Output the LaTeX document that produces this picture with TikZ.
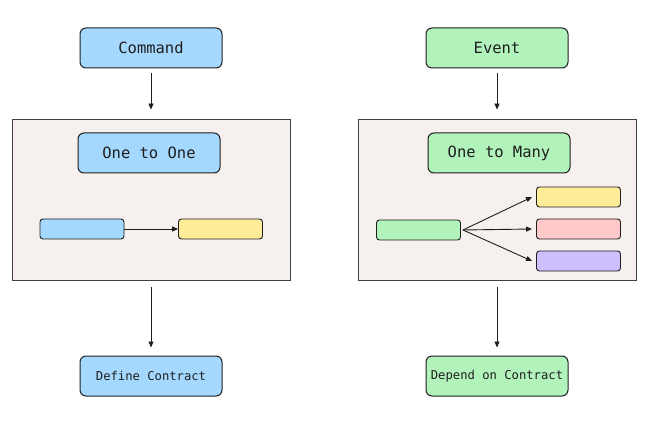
\documentclass[tikz,border=0pt]{standalone}
\usepackage{fontspec}
\setmonofont{DejaVu Sans Mono}
\usetikzlibrary{arrows.meta}
\definecolor{cblue}{HTML}{A5D8FF}
\definecolor{cgreen}{HTML}{B2F2BB}
\definecolor{cyellow}{HTML}{FFEC99}
\definecolor{cpink}{HTML}{FFC9C9}
\definecolor{cpurple}{HTML}{D0BFFF}
\definecolor{cframe}{HTML}{F6F1EE}
\definecolor{cstroke}{HTML}{1E1E1E}
\begin{document}
\begin{tikzpicture}[x=1pt,y=-1pt,
  bigbox/.style={draw=cstroke,line width=1pt,rounded corners=6pt,minimum width=142pt,minimum height=40pt,inner sep=0pt,font=\ttfamily\fontsize{15.5}{18}\selectfont,text=cstroke},
  smallfont/.style={font=\ttfamily\fontsize{12.2}{14}\selectfont},
  bar/.style={draw=cstroke,line width=0.9pt,rounded corners=3pt,minimum width=84pt,minimum height=20pt,inner sep=0pt},
  frame/.style={draw=cstroke!85,line width=0.9pt,fill=cframe,minimum width=278pt,minimum height=161pt,inner sep=0pt},
  arr/.style={draw=cstroke,line width=0.9pt,-{Triangle[length=6pt,width=5pt]}}]
\useasboundingbox (0,0) rectangle (648,422);
\fill[white] (0,0) rectangle (648,422);
% left column
\node[bigbox,fill=cblue] (cmd) at (151,48) {Command};
\node[frame] (lframe) at (151,199.5) {};
\node[bigbox,fill=cblue] (o2o) at (149,153) {One to One};
\node[bar,fill=cblue] (lsrc) at (82,229) {};
\node[bar,fill=cyellow] (ldst) at (220.5,229) {};
\node[bigbox,smallfont,fill=cblue] (def) at (151,376) {Define Contract};
\draw[arr] (cmd.south) ++(0,5) -- ([yshift=9pt]lframe.north);
\draw[arr] (lsrc.east) -- (ldst.west);
\draw[arr] ([yshift=-7pt]lframe.south) -- ([yshift=8pt]def.north);
% right column
\node[bigbox,fill=cgreen] (evt) at (497,48) {Event};
\node[frame] (rframe) at (497,199.5) {};
\node[bigbox,fill=cgreen] (o2m) at (499,153) {One to Many};
\node[bar,fill=cgreen] (rsrc) at (418.5,230) {};
\node[bar,fill=cyellow] (ry) at (578.5,197) {};
\node[bar,fill=cpink] (rp) at (578.5,229) {};
\node[bar,fill=cpurple] (ru) at (578.5,261) {};
\node[bigbox,smallfont,fill=cgreen] (dep) at (497,376) {Depend on Contract};
\coordinate (fork) at ([xshift=2pt]rsrc.east);
\draw[arr] (evt.south) ++(0,5) -- ([yshift=9pt]rframe.north);
\draw[arr] (fork) -- ([xshift=-4pt]ry.west);
\draw[arr] (fork) -- ([xshift=-4pt]rp.west);
\draw[arr] (fork) -- ([xshift=-4pt]ru.west);
\draw[arr] ([yshift=-7pt]rframe.south) -- ([yshift=8pt]dep.north);
\end{tikzpicture}
\end{document}
